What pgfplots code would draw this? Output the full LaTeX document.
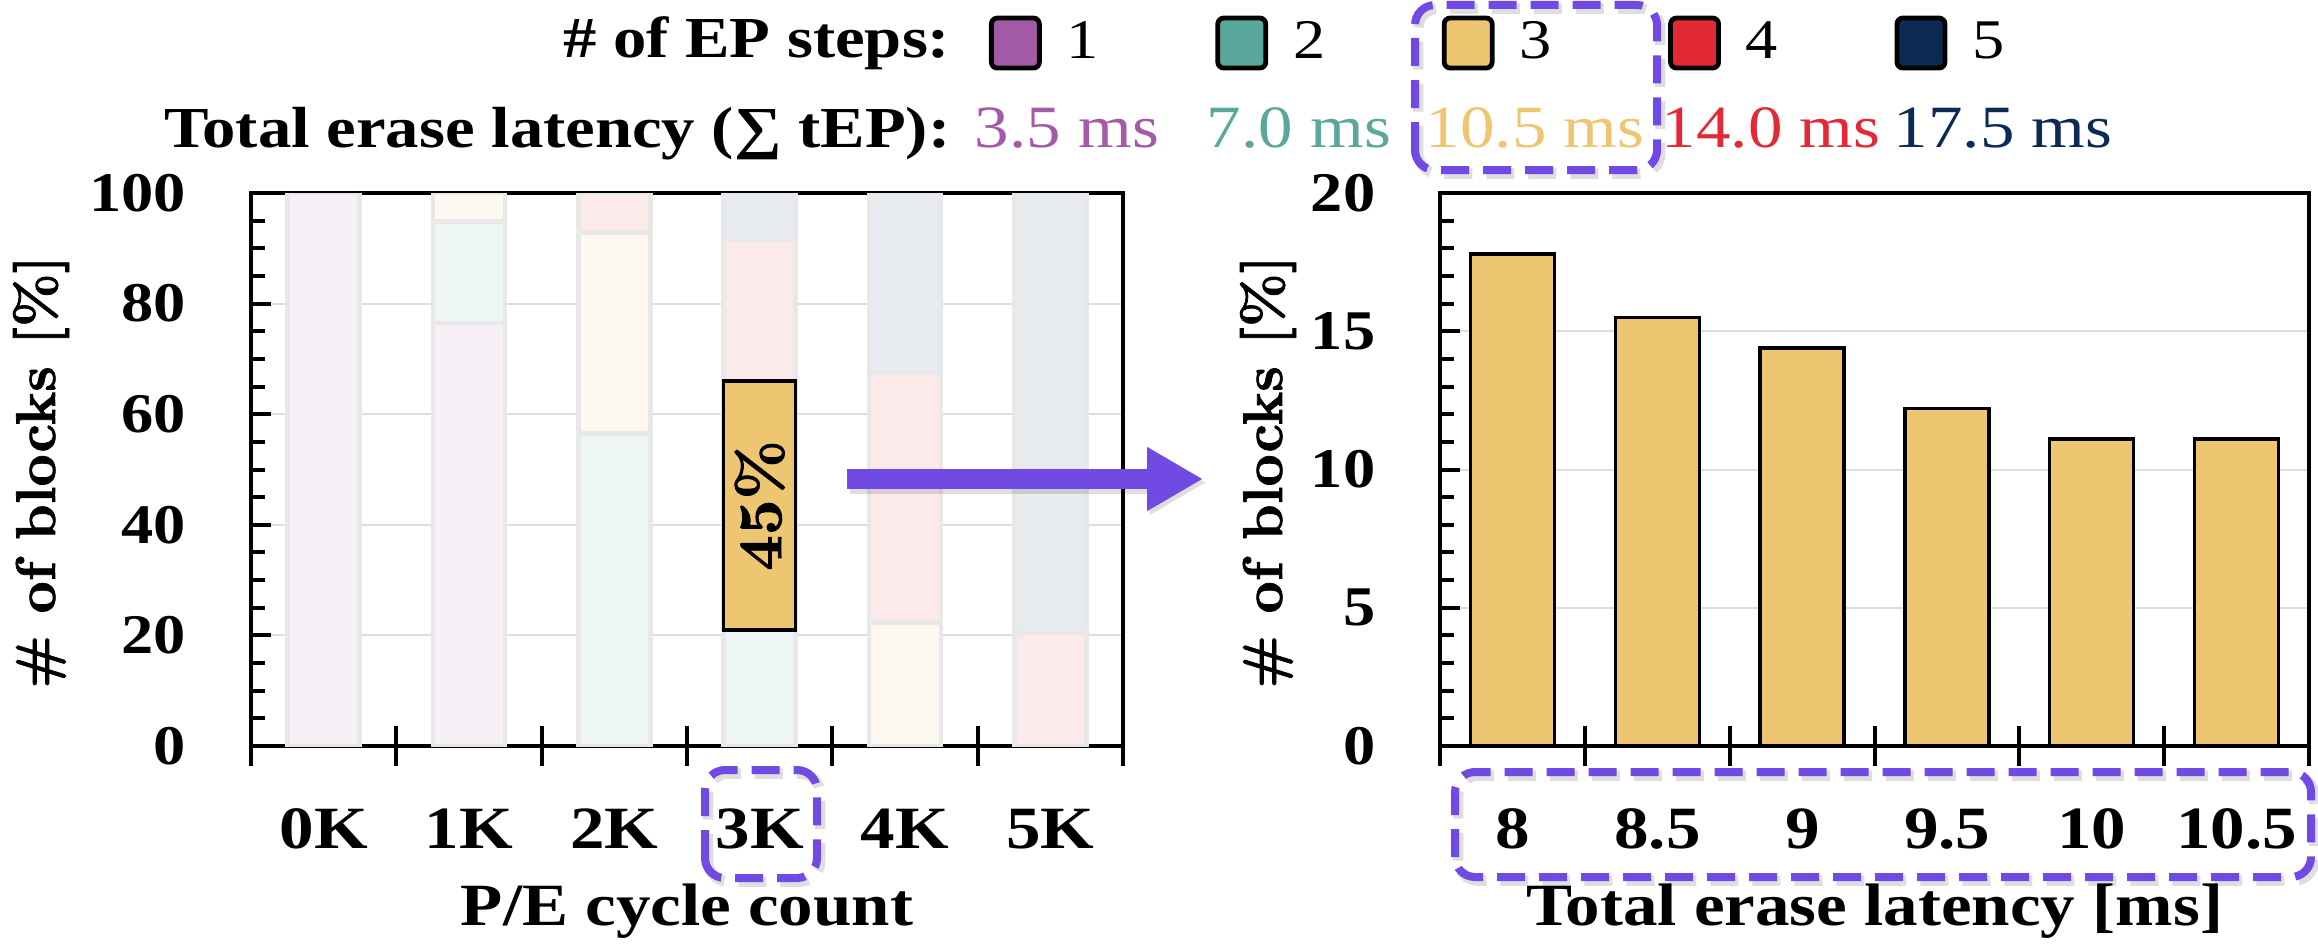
\documentclass[border=0pt]{standalone}
\usepackage{fontspec}
\usepackage{pgfplots}
\pgfplotsset{compat=1.18}
\usetikzlibrary{arrows.meta}

\newfontfamily\cam{Liberation Serif}[FakeStretch=1.15]
\newfontfamily\heavy{lmroman10-bold.otf}[FakeBold=1.3]
\newcommand{\fs}[1]{\fontsize{#1}{#1}\selectfont}

\definecolor{stepA}{RGB}{163,91,168}
\definecolor{stepB}{RGB}{90,168,155}
\definecolor{stepC}{RGB}{238,197,113}
\definecolor{stepD}{RGB}{226,41,53}
\definecolor{stepE}{RGB}{12,42,84}
\definecolor{hl}{RGB}{112,74,226}
\definecolor{gridgray}{RGB}{221,221,221}

\pgfplotsset{
  panel/.style={
    scale only axis, height=138.25pt,
    xmin=-0.5, xmax=5.5, ymin=0,
    axis line style={line width=1.2pt},
    xtick={-0.5,0.5,...,5.5},
    xtick pos=bottom, xtick align=center, major tick length=10pt,
    x tick style={line width=1pt, black},
    xticklabel style={font=\cam\bfseries\fs{15}, anchor=base, inner sep=0pt,
                      xshift=18.15pt, yshift=-20.5pt},
    ymajorgrids, major grid style={gridgray, line width=0.5pt},
    y tick style={draw=none},
    yticklabel style={font=\cam\bfseries\fs{14}, anchor=east, inner sep=0pt, xshift=-16pt},
    /pgf/number format/assume math mode=true,
    ylabel style={font=\heavy\fs{14}, anchor=center},
    xlabel style={font=\cam\bfseries\fs{15}, anchor=base},
  },
  tickpanel/.style={
    scale only axis, height=138.25pt,
    xmin=-0.5, xmax=5.5, ymin=0,
    axis line style={draw=none},
    xtick=\empty, yticklabels={},
    ytick pos=left, tick align=inside,
    major tick length=5pt, minor tick length=3.5pt,
    every tick/.style={black, line width=1pt},
  },
  faded/.style={fill=#1!10!white, draw=black!9!white, line width=1.2pt, forget plot},
  swatch/.style={legend image code/.code={%
      \draw[fill=#1, draw=black, line width=1.2pt, rounded corners=1.5pt]
        (0pt,-6.25pt) rectangle (12pt,6.25pt);}},
}

\tikzset{
  softshadow/.style={draw=black, opacity=0.13, shift={(0.8pt,-0.9pt)}},
}

\begin{document}
\begin{tikzpicture}
\useasboundingbox (0,0) rectangle (579.5pt,236.25pt);

% ---- left panel: share of blocks by number of EP steps ----
\begin{axis}[panel, name=L, at={(62.75pt,49.75pt)}, anchor=south west, width=218pt,
  ymax=100, ytick={0,20,...,100},
  ybar stacked, bar width=18pt,
  xticklabels={0K,1K,2K,3K,4K,5K,{}},
  xlabel={P/E cycle count},
  xlabel style={at={(axis description cs:0.5,-0.3237)}},
  ylabel={\# of blocks [\%]},
  ylabel style={at={(axis description cs:-0.2408,0.4955)}},
  legend columns=5,
  legend style={at={(axis description cs:0.8463,1.2712)}, anchor=west,
    draw=none, fill=none, inner sep=0pt, outer sep=0pt,
    nodes={inner sep=0pt}, font=\cam\fs{14}, column sep=6.25pt,
    /tikz/every even column/.append style={column sep=29.1pt}},
]
\addplot[faded=stepA] coordinates {(0,100) (1,76.5) (2,0) (3,0) (4,0) (5,0)};
\addplot[faded=stepB] coordinates {(0,0) (1,18.4) (2,56.5) (3,21) (4,0) (5,0)};
\addplot[faded=stepC] coordinates {(0,0) (1,5.1) (2,36.4) (3,45) (4,22.4) (5,0)};
\addplot[faded=stepD] coordinates {(0,0) (1,0) (2,7.1) (3,25.5) (4,45.1) (5,20.5)};
\addplot[faded=stepE] coordinates {(0,0) (1,0) (2,0) (3,8.5) (4,32.5) (5,79.5)};
\addlegendimage{swatch=stepA}\addlegendentry{1}
\addlegendimage{swatch=stepB}\addlegendentry{2}
\addlegendimage{swatch=stepC}\addlegendentry{3}
\addlegendimage{swatch=stepD}\addlegendentry{4}
\addlegendimage{swatch=stepE}\addlegendentry{5}
\end{axis}

% highlighted 3-step share at 3K cycles, and the y tick marks
\begin{axis}[tickpanel, at={(62.75pt,49.75pt)}, anchor=south west, width=218pt,
  ymax=100, ytick={0,20,...,100}, minor y tick num=3,
  ybar stacked, bar width=18pt]
\addplot[draw=none, fill=none] coordinates {(3,21)};
\addplot[fill=stepC, draw=black, line width=0.85pt] coordinates {(3,45)};
\coordinate (share) at (axis cs:3,43.5);
\end{axis}
\node[rotate=90, font=\heavy\fs{15.5}, inner sep=0pt] at (share) {45\%};

% ---- right panel: latency distribution of 3-step blocks ----
\begin{axis}[panel, name=R, at={(360pt,49.75pt)}, anchor=south west, width=217.25pt,
  ymax=20, ytick={0,5,...,20},
  xticklabels={8,8.5,9,9.5,10,10.5,{}},
  xlabel={Total erase latency [ms]},
  xlabel style={at={(axis description cs:0.5,-0.3237)}},
  ylabel={\# of blocks [\%]},
  ylabel style={at={(axis description cs:-0.1979,0.4955)}},
]
\end{axis}

\begin{axis}[tickpanel, at={(360pt,49.75pt)}, anchor=south west, width=217.25pt,
  ymax=20, ytick={0,5,...,20}, minor y tick num=4,
  ybar, bar width=21pt]
\addplot[fill=stepC, draw=black, line width=0.85pt]
  coordinates {(0,17.8) (1,15.5) (2,14.4) (3,12.2) (4,11.1) (5,11.1)};
\end{axis}

% ---- header: legend caption and latency per step count ----
\node[anchor=base east, font=\cam\bfseries\fs{14.5}, inner sep=0pt] at (237.75pt,222pt) {\# of EP steps:};
\node[anchor=base east, font=\cam\bfseries\fs{14.5}, inner sep=0pt] at (237.75pt,199.5pt) {Total erase latency (∑ tEP):};
\begin{scope}[every node/.style={anchor=base west, font=\cam\fs{15}, inner sep=0pt}]
\node[text=stepA] at (243.5pt,199.5pt) {3.5 ms};
\node[text=stepB] at (301.5pt,199.5pt) {7.0 ms};
\node[text=stepC] at (356.25pt,199.5pt) {10.5 ms};
\node[text=stepD] at (415.25pt,199.5pt) {14.0 ms};
\node[text=stepE] at (473.25pt,199.5pt) {17.5 ms};
\end{scope}

% ---- highlight boxes and arrow (with a soft offset shadow) ----
\begin{scope}[line width=2.6pt, dash pattern=on 7pt off 3.5pt, rounded corners=5pt]
\draw[softshadow] (353.75pt,193.75pt) rectangle (414.25pt,235pt);
\draw[softshadow] (176.25pt,16.75pt) rectangle (204.25pt,43.75pt);
\draw[softshadow] (363.75pt,17pt) rectangle (577.75pt,43.25pt);
\end{scope}
\begin{scope}[hl, line width=2pt, dash pattern=on 7pt off 3.5pt, rounded corners=5pt]
\draw (353.75pt,193.75pt) rectangle (414.25pt,235pt);
\draw (176.25pt,16.75pt) rectangle (204.25pt,43.75pt);
\draw (363.75pt,17pt) rectangle (577.75pt,43.25pt);
\end{scope}
\draw[softshadow, line width=5.6pt, -{Triangle[length=14pt,width=15pt]}] (211.75pt,116.5pt) -- (300.75pt,116.5pt);
\draw[hl, line width=5pt, -{Triangle[length=14pt,width=15pt]}] (211.75pt,116.5pt) -- (300.75pt,116.5pt);
\end{tikzpicture}
\end{document}
